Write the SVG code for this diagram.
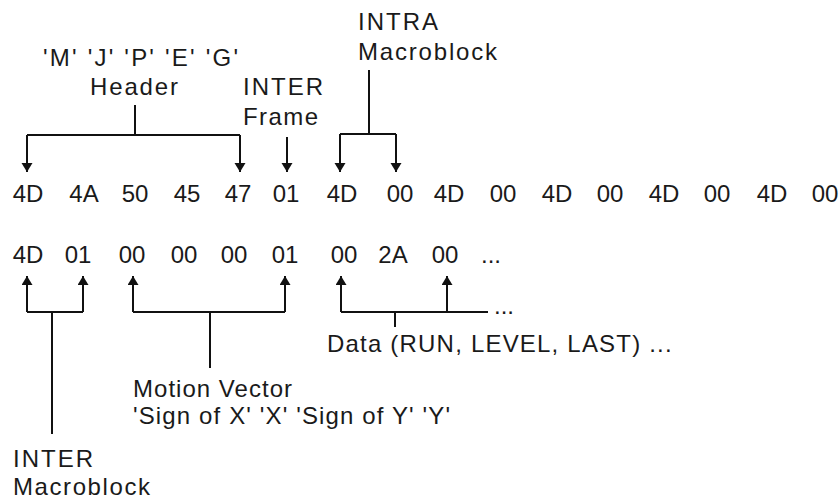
<svg xmlns="http://www.w3.org/2000/svg" width="840" height="503" viewBox="0 0 840 503">
  <style>
    text { font-family: "Liberation Sans", Arial, sans-serif; font-size: 24px; fill: #1a1a1a; }
    .hex { text-anchor: middle; }
    .lbl { letter-spacing: 1.2px; }
    .wire { fill: none; stroke: #111; stroke-width: 2; }
  </style>
  <defs>
    <marker id="arrow" markerUnits="userSpaceOnUse" markerWidth="12" markerHeight="12" refX="9" refY="5.5" orient="auto">
      <path d="M0,0 L9,5.5 L0,11 Z" fill="#111"/>
    </marker>
  </defs>
  <rect width="840" height="503" fill="#fff"/>

  <!-- byte stream, first row -->
  <g id="row1">
    <text class="hex" x="28" y="202">4D</text>
    <text class="hex" x="84" y="202">4A</text>
    <text class="hex" x="135" y="202">50</text>
    <text class="hex" x="187" y="202">45</text>
    <text class="hex" x="238" y="202">47</text>
    <text class="hex" x="286" y="202">01</text>
    <text class="hex" x="342" y="202">4D</text>
    <text class="hex" x="400" y="202">00</text>
    <text class="hex" x="449" y="202">4D</text>
    <text class="hex" x="503" y="202">00</text>
    <text class="hex" x="557" y="202">4D</text>
    <text class="hex" x="610" y="202">00</text>
    <text class="hex" x="664" y="202">4D</text>
    <text class="hex" x="717" y="202">00</text>
    <text class="hex" x="772" y="202">4D</text>
    <text class="hex" x="825" y="202">00</text>
  </g>

  <!-- byte stream, second row -->
  <g id="row2">
    <text class="hex" x="28" y="263">4D</text>
    <text class="hex" x="78" y="263">01</text>
    <text class="hex" x="132" y="263">00</text>
    <text class="hex" x="184" y="263">00</text>
    <text class="hex" x="234" y="263">00</text>
    <text class="hex" x="285" y="263">01</text>
    <text class="hex" x="344" y="263">00</text>
    <text class="hex" x="393" y="263">2A</text>
    <text class="hex" x="445" y="263">00</text>
    <text class="hex" x="491" y="263">...</text>
  </g>

  <!-- labels -->
  <g id="header">
    <text x="43" y="66" textLength="195" lengthAdjust="spacing">'M'  'J'  'P'  'E'  'G'</text>
    <text x="90" y="95" textLength="88" lengthAdjust="spacing">Header</text>
  </g>
  <g id="inter-frame">
    <text x="243" y="95" textLength="80" lengthAdjust="spacing">INTER</text>
    <text x="243" y="125" textLength="75" lengthAdjust="spacing">Frame</text>
  </g>
  <g id="intra-macroblock">
    <text x="358" y="30" textLength="80" lengthAdjust="spacing">INTRA</text>
    <text x="358" y="60" textLength="139" lengthAdjust="spacing">Macroblock</text>
  </g>
  <g id="inter-macroblock">
    <text x="13" y="467" textLength="80" lengthAdjust="spacing">INTER</text>
    <text x="13" y="495" textLength="137" lengthAdjust="spacing">Macroblock</text>
  </g>
  <g id="motion-vector">
    <text x="133" y="397" textLength="159" lengthAdjust="spacing">Motion Vector</text>
    <text x="133" y="424" textLength="317" lengthAdjust="spacing">'Sign of X'  'X'  'Sign of Y'  'Y'</text>
  </g>
  <g id="data">
    <text class="lbl" x="327" y="352">Data (RUN, LEVEL, LAST) ...</text>
  </g>

  <!-- connectors -->
  <g id="connectors" class="wire">
    <!-- header bracket -->
    <path d="M135,105 V135"/>
    <path d="M27,135 H240"/>
    <path d="M27,135 V172" marker-end="url(#arrow)"/>
    <path d="M240,135 V172" marker-end="url(#arrow)"/>
    <!-- inter frame -->
    <path d="M287,137 V172" marker-end="url(#arrow)"/>
    <!-- intra macroblock bracket -->
    <path d="M369,70 V134"/>
    <path d="M340,134 H396"/>
    <path d="M340,134 V172" marker-end="url(#arrow)"/>
    <path d="M396,134 V172" marker-end="url(#arrow)"/>
    <!-- inter macroblock bracket -->
    <path d="M27,312 H83"/>
    <path d="M27,312 V276" marker-end="url(#arrow)"/>
    <path d="M83,312 V276" marker-end="url(#arrow)"/>
    <path d="M52,312 V434"/>
    <!-- motion vector bracket -->
    <path d="M133,312 H285"/>
    <path d="M133,312 V276" marker-end="url(#arrow)"/>
    <path d="M285,312 V276" marker-end="url(#arrow)"/>
    <path d="M210,312 V368"/>
    <!-- data bracket -->
    <path d="M341,312 H488"/>
    <path d="M341,312 V276" marker-end="url(#arrow)"/>
    <path d="M447,312 V276" marker-end="url(#arrow)"/>
    <path d="M395,312 V327"/>
  </g>
  <text x="494" y="314">...</text>
</svg>
